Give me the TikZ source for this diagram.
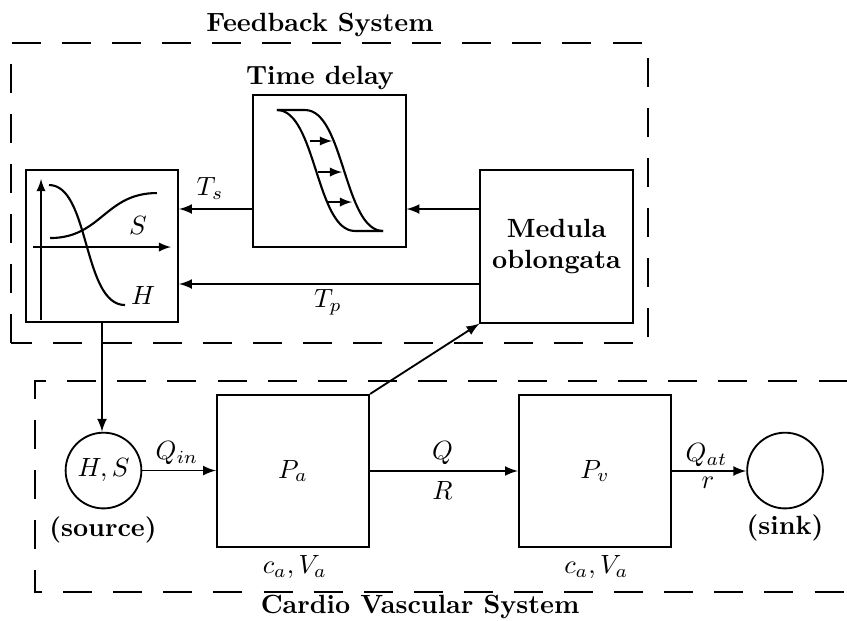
\documentclass[tikz,border=0pt]{standalone}
\usepackage{amssymb}
\usepackage{amsmath}
\usetikzlibrary{arrows}

\tikzset{
  blk/.style = {draw, line width = 0.7pt, minimum size = 2.03cm, inner sep = 0pt},
  pool/.style = {draw, line width = 0.7pt, circle, minimum size = 1.01cm, inner sep = 0pt},
  frame/.style = {line width = 0.8pt, dash pattern = on 11pt off 8pt},
  flow/.style = {line width = 0.7pt, -latex},
  curve/.style = {line width = 0.8pt}
}

\begin{document}
\begin{tikzpicture} [scale = 1]
\useasboundingbox (0.0, 0.0) rectangle (11.293, 8.267);
% dashed frames
\draw[frame] (0.147, 3.693) rectangle (8.64, 7.693);
\draw[frame] (11.3, 3.187) -- (0.467, 3.187) -- (0.467, 0.373) -- (11.3, 0.373);
\node[font = \bfseries] (fbtitle) at (4.267, 7.94){Feedback System};
\node[font = \bfseries] (cvtitle) at (5.6, 0.17){Cardio Vascular System};
% feedback blocks
\node[blk] (plot) at (1.36, 4.987){};
\node[blk] (delay) at (4.393, 5.987){};
\node[blk, align = center, font = \bfseries] (medula) at (7.42, 4.98){Medula\\oblongata};
\node[font = \bfseries] (delaytitle) at (4.267, 7.227){Time delay};
% cardio vascular blocks
\node[pool] (source) at (1.38, 1.993){$H, S$};
\node[blk] (pa) at (3.907, 1.987){$P_{a}$};
\node[blk] (pv) at (7.933, 1.987){$P_{v}$};
\node[pool] (sink) at (10.467, 1.993){};
\node[font = \bfseries] (srclabel) at (1.373, 1.2){(source)};
\node[font = \bfseries] (sinklabel) at (10.467, 1.227){(sink)};
\node[] (pacv) at (3.93, 0.71){$c_{a}, V_{a}$};
\node[] (pvcv) at (7.95, 0.71){$c_{a}, V_{a}$};
% curves in the plot
\draw[line width = 0.6pt, -latex] (0.547, 4.0) -- (0.547, 5.88);
\draw[line width = 0.6pt, -latex] (0.44, 4.973) -- (2.28, 4.973);
\draw[curve] (0.667, 5.093) .. controls (1.35, 5.093) and (1.4, 5.693) .. (2.093, 5.693);
\draw[curve] (0.653, 5.8) .. controls (1.2, 5.8) and (1.1, 4.2) .. (1.667, 4.2);
\node[] (slabel) at (1.84, 5.267){$S$};
\node[] (hlabel) at (1.907, 4.333){$H$};
% curves in the time delay
\draw[curve] (3.693, 6.8) .. controls (4.213, 6.8) and (4.213, 5.187) .. (4.733, 5.187) -- (5.107, 5.187);
\draw[curve] (3.693, 6.8) -- (4.067, 6.8) .. controls (4.587, 6.8) and (4.587, 5.187) .. (5.107, 5.187);
\draw[line width = 0.6pt, -latex] (4.133, 6.387) -- (4.427, 6.387);
\draw[line width = 0.6pt, -latex] (4.24, 5.973) -- (4.56, 5.973);
\draw[line width = 0.6pt, -latex] (4.373, 5.573) -- (4.693, 5.573);
% connectors
\draw[flow] ([yshift = 5mm]medula.west) -- ([yshift = 5mm]medula.west -| delay.east);
\draw[flow] ([yshift = 5mm]medula.west -| delay.west) -- ([yshift = 5mm]medula.west -| plot.east);
\draw[flow] ([yshift = -5mm]medula.west) -- ([yshift = -5mm]medula.west -| plot.east);
\draw[flow] (plot.south) -- (plot.south |- source.north);
\draw[flow] (pa.north east) -- (medula.south west);
\draw[flow] (source.east) -- (source.east -| pa.west);
\draw[flow] (pa.east) -- (pv.west);
\draw[flow] (pv.east) -- (pv.east -| sink.west);
\node[] (tslabel) at (2.8, 5.76){$T_{s}$};
\node[] (tplabel) at (4.373, 4.24){$T_{p}$};
\node[] (qinlabel) at (2.36, 2.227){$Q_{in}$};
\node[] (qlabel) at (5.9, 2.227){$Q$};
\node[] (rlabel) at (5.9, 1.733){$R$};
\node[] (qatlabel) at (9.42, 2.2){$Q_{at}$};
\node[] (rslabel) at (9.44, 1.827){$r$};
\end{tikzpicture}
\end{document}
